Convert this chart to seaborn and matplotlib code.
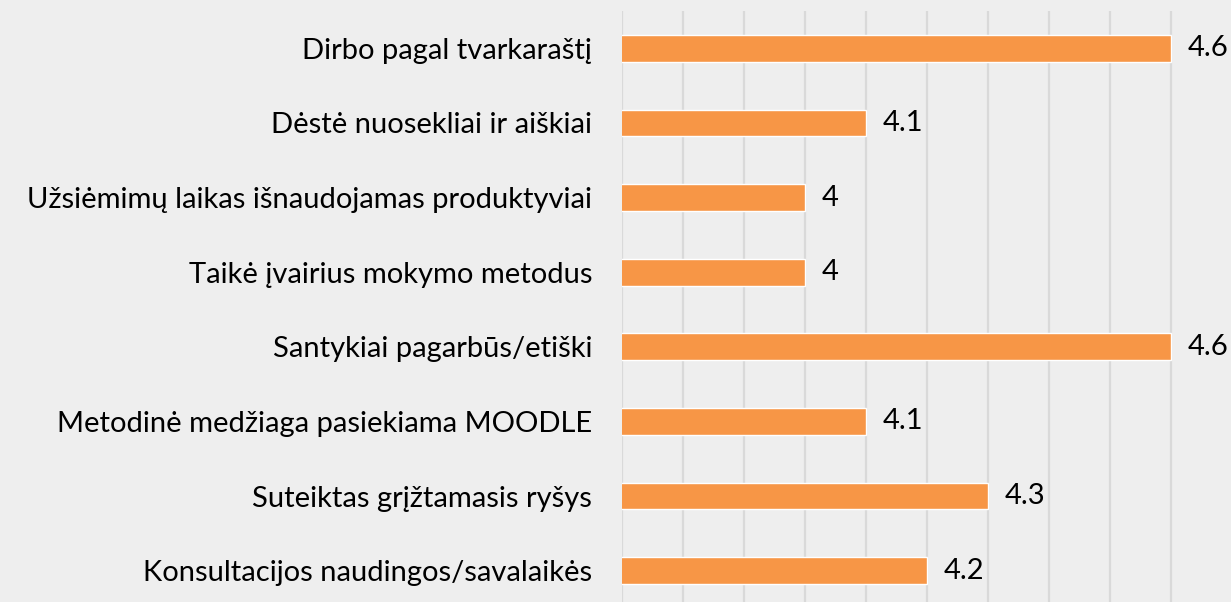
import matplotlib
matplotlib.use("Agg")
import matplotlib.pyplot as plt
import seaborn as sns
import pandas as pd

categories = [
    "Dirbo pagal tvarkaraštį",
    "Dėstė nuosekliai ir aiškiai",
    "Užsiėmimų laikas išnaudojamas produktyviai",
    "Taikė įvairius mokymo metodus",
    "Santykiai pagarbūs/etiški",
    "Metodinė medžiaga pasiekiama MOODLE",
    "Suteiktas grįžtamasis ryšys",
    "Konsultacijos naudingos/savalaikės",
]
values = [4.6, 4.1, 4.0, 4.0, 4.6, 4.1, 4.3, 4.2]
value_labels = ["4.6", "4.1", "4", "4", "4.6", "4.1", "4.3", "4.2"]

df = pd.DataFrame({"cat": categories, "val": values})

sns.set_theme(style="white")
plt.rcParams['font.family'] = ['Lato', 'DejaVu Sans']

W, H = 1231, 602
fig = plt.figure(figsize=(W / 100, H / 100), dpi=100)
fig.patch.set_facecolor("#EEEEEE")
# axes: left at x=622, right at 1232, top at y=11, bottom at 608 (pixels)
ax = fig.add_axes([622 / W, (H - 608) / H, 610 / W, 597 / H])
ax.set_facecolor("#EEEEEE")

sns.barplot(data=df, x="val", y="cat", orient="h", color="#F79646",
            saturation=1, width=0.36, ax=ax, zorder=3)

ax.set_xlim(3.7, 4.7)
ax.set_ylim(len(categories) - 0.5, -0.5)
ax.set_xticks([3.7 + 0.1 * i for i in range(11)])
ax.xaxis.grid(True, color="#D9D9D9", linewidth=1.6, zorder=0)
ax.set_axisbelow(True)
ax.tick_params(axis="x", length=0, labelbottom=False)
ax.tick_params(axis="y", length=0, pad=21.5, labelsize=21, labelcolor="#000000")
for s in ax.spines.values():
    s.set_visible(False)
ax.set_xlabel("")
ax.set_ylabel("")

for i, (v, lab) in enumerate(zip(values, value_labels)):
    ax.annotate(lab, xy=(v, i), xytext=(12, 0), textcoords="offset points",
                ha="left", va="center", fontsize=21, color="#000000")

fig.savefig("out.png", dpi=100, facecolor=fig.get_facecolor())
